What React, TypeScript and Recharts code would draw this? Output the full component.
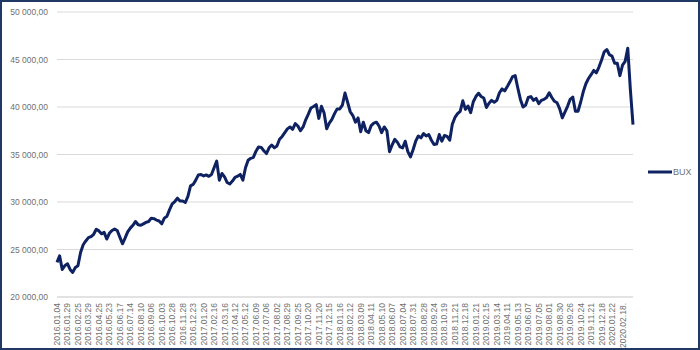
import { LineChart, Line, XAxis, YAxis, CartesianGrid, Legend } from "recharts"

// tick labels shown under the axis (one every 4 samples)
const tickDates = [
  "2016.01.04", "2016.01.29", "2016.02.25", "2016.03.29", "2016.04.25", "2016.05.23", "2016.06.17",
  "2016.07.14", "2016.08.10", "2016.09.06", "2016.10.03", "2016.10.28", "2016.11.28", "2016.12.23",
  "2017.01.20", "2017.02.16", "2017.03.16", "2017.04.12", "2017.05.12", "2017.06.09", "2017.07.06",
  "2017.08.02", "2017.08.29", "2017.09.25", "2017.10.20", "2017.11.20", "2017.12.15",
  "2018.01.16", "2018.02.12", "2018.03.09", "2018.04.11", "2018.05.10", "2018.06.07", "2018.07.04",
  "2018.07.31", "2018.08.28", "2018.09.24", "2018.10.19", "2018.11.21", "2018.12.18",
  "2019.01.21", "2019.02.15", "2019.03.14", "2019.04.11", "2019.05.13", "2019.06.07", "2019.07.05",
  "2019.08.01", "2019.08.30", "2019.09.26", "2019.10.24", "2019.11.21", "2019.12.18",
  "2020.01.22", "2020.02.18.",
]

// BUX closing values, roughly weekly samples
const buxValues = [
  23640, 24330, 22900, 23300, 23500, 22900, 22590, 23110, 23290, 24690, 25500, 25900, 26250, 26350, 26600, 27130, 26960, 26650, 26800, 26100,
  26700, 27000, 27150, 27000, 26300, 25600, 26200, 26850, 27250, 27550, 27950, 27600, 27550, 27700, 27850, 27950, 28300, 28250, 28100, 28000,
  27700, 28300, 28500, 29200, 29800, 30050, 30400, 30100, 30100, 29950, 30600, 31700, 31850, 32300, 32850, 32900, 32750, 32850, 32700, 32900,
  33600, 34300, 32300, 33000, 32650, 32050, 31900, 32200, 32600, 32720, 32900, 32300, 33600, 34400, 34600, 34700, 35350, 35800, 35750, 35400,
  35100, 35700, 36000, 35700, 35900, 36600, 36900, 37300, 37700, 37900, 37650, 38250, 38000, 37500, 37900, 38650, 39250, 39900, 40050, 40250,
  38800, 40070, 39400, 37700, 38300, 38700, 39300, 39800, 39800, 40200, 41470, 40500, 39500, 39100, 38400, 38850, 37400, 38400, 37500, 37300,
  38050, 38300, 38400, 38000, 37300, 37900, 37500, 35300, 36000, 36600, 36300, 35800, 35700, 36400, 35300, 34750, 35500, 36400, 36950, 36750,
  37200, 36950, 37100, 36500, 36050, 36100, 37100, 36400, 37000, 36900, 36500, 38200, 38900, 39300, 39550, 40650, 39750, 40100, 39400, 40550,
  41100, 41450, 41100, 40950, 39950, 40400, 40700, 40500, 40700, 41500, 41900, 41700, 42150, 42650, 43200, 43300, 42000, 40800, 40000, 40200,
  41000, 41100, 40700, 40900, 40350, 40700, 40800, 41000, 41500, 41000, 40600, 40450, 39800, 38850, 39450, 40070, 40800, 41050, 39550, 39550,
  40500, 41600, 42450, 43000, 43400, 43850, 43600, 44200, 44950, 45800, 46050, 45500, 45350, 44600, 44600, 43300, 44400, 44800, 46190, 41800, 38150,
]

const yTicks = [20000, 25000, 30000, 35000, 40000, 45000, 50000]

const data = buxValues.map((v, i) => ({
  date: i % 4 === 0 && tickDates[i / 4] ? tickDates[i / 4] : `p${i}`,
  BUX: v,
}))

const LINE_COLOR = "#0e2262"
const TEXT_COLOR = "#707070"

const fmtY = (v: number) => `${v / 1000}\u00a0000,00`

const DateTick = ({ x, y, payload }: any) => (
  <g transform={`translate(${x},${y})`}>
    <text transform="rotate(-90)" textAnchor="end" dy="0.35em" fontSize={8.5} fill={TEXT_COLOR}>
      {payload.value}
    </text>
  </g>
)

const LegendBox = () => (
  <div style={{ display: "flex", alignItems: "center", fontSize: 9, color: TEXT_COLOR }}>
    <svg width={24} height={6}>
      <line x1={0} y1={3} x2={24} y2={3} stroke={LINE_COLOR} strokeWidth={3} />
    </svg>
    <span style={{ marginLeft: 1 }}>BUX</span>
  </div>
)

export default function App() {
  return (
    <div
      style={{
        position: "absolute",
        left: 0,
        top: 0,
        width: 700,
        height: 350,
        boxSizing: "border-box",
        border: "2px solid #203864",
        background: "#fff",
        fontFamily: "'Liberation Sans', Arial, sans-serif",
      }}
    >
      <LineChart width={696} height={346} data={data} margin={{ top: 10, right: 65, bottom: 0, left: 0 }}>
        <CartesianGrid vertical={false} stroke="#d9d9d9" />
        <XAxis
          dataKey="date"
          ticks={tickDates}
          interval={0}
          height={51}
          tickLine={false}
          tickSize={5}
          tickMargin={1}
          axisLine={{ stroke: "#d9d9d9" }}
          tick={<DateTick />}
        />
        <YAxis
          width={55}
          domain={[20000, 50000]}
          ticks={yTicks}
          tickFormatter={fmtY}
          axisLine={false}
          tickLine={false}
          tickSize={6}
          tickMargin={3}
          tick={{ fontSize: 8.5, fill: TEXT_COLOR }}
        />
        <Legend
          layout="horizontal"
          verticalAlign="middle"
          align="center"
          wrapperStyle={{ left: 646, top: 165, width: 50 }}
          content={<LegendBox />}
        />
        <Line
          type="linear"
          dataKey="BUX"
          stroke={LINE_COLOR}
          strokeWidth={3}
          strokeLinejoin="round"
          dot={false}
          isAnimationActive={false}
        />
      </LineChart>
    </div>
  )
}
